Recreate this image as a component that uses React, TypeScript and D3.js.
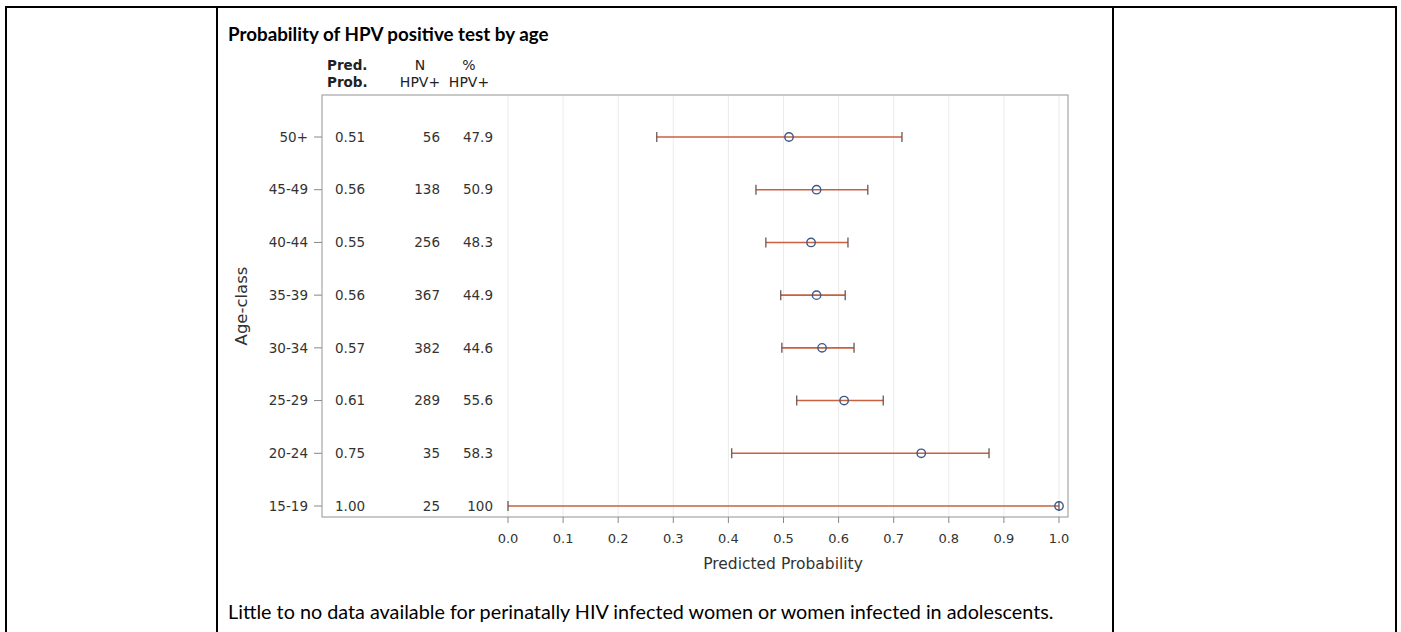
import React from "react";
import * as d3 from "d3";

const ageClasses = ["50+", "45-49", "40-44", "35-39", "30-34", "25-29", "20-24", "15-19"];
const predProb = [0.51, 0.56, 0.55, 0.56, 0.57, 0.61, 0.75, 1.0];
const lowerCI = [0.27, 0.45, 0.468, 0.495, 0.497, 0.524, 0.406, 0.0];
const upperCI = [0.715, 0.653, 0.617, 0.612, 0.628, 0.681, 0.873, 1.0];
const predLabels = ["0.51", "0.56", "0.55", "0.56", "0.57", "0.61", "0.75", "1.00"];
const nHpv = ["56", "138", "256", "367", "382", "289", "35", "25"];
const pctHpv = ["47.9", "50.9", "48.3", "44.9", "44.6", "55.6", "58.3", "100"];
const xTicks = [0, 0.1, 0.2, 0.3, 0.4, 0.5, 0.6, 0.7, 0.8, 0.9, 1.0];

const W = 1401;
const H = 632;
const chartFont = "'DejaVu Sans', sans-serif";
const docFont = "Lato, 'Open Sans', sans-serif";

export default function App() {
  const x = d3.scaleLinear().domain([0, 1]).range([508, 1059]);
  const y = d3.scalePoint<string>().domain(ageClasses).range([137, 506]);
  const plot = { left: 322, top: 95, right: 1068, bottom: 517 };
  const lineColor = "#c9603f";
  const capColor = "#6b5555";
  const capH = 5;

  return (
    <svg width={W} height={H} style={{ position: "absolute", left: 0, top: 0, background: "#fff" }}>
      {/* table borders */}
      <g stroke="#000" strokeWidth={2}>
        <line x1={5} x2={1397} y1={7} y2={7} />
        <line x1={6} x2={6} y1={6} y2={H} />
        <line x1={217} x2={217} y1={6} y2={H} />
        <line x1={1113} x2={1113} y1={6} y2={H} />
        <line x1={1396} x2={1396} y1={6} y2={H} />
      </g>
      <text x={228} y={41} fontFamily={docFont} fontWeight="bold" fontSize={18.8} fill="#000">
        Probability of HPV positive test by age
      </text>
      <text x={228} y={619} fontFamily={docFont} fontSize={19.8} fill="#000">
        Little to no data available for perinatally HIV infected women or women infected in adolescents.
      </text>

      {/* gridlines */}
      <g stroke="#ebebeb" strokeWidth={1}>
        {xTicks.map((t) => (
          <line key={t} x1={x(t)} x2={x(t)} y1={plot.top} y2={plot.bottom} />
        ))}
      </g>
      {/* frame */}
      <rect
        x={plot.left}
        y={plot.top}
        width={plot.right - plot.left}
        height={plot.bottom - plot.top}
        fill="none"
        stroke="#a6a6a6"
        strokeWidth={1.2}
      />

      {/* column headers */}
      <g fontFamily={chartFont} fontSize={14} fill="#222">
        <text x={327} y={70} fontWeight="bold" fontSize={13.5}>Pred.</text>
        <text x={327} y={87} fontWeight="bold" fontSize={13.5}>Prob.</text>
        <text x={420} y={70} textAnchor="middle">N</text>
        <text x={420} y={87} textAnchor="middle">HPV+</text>
        <text x={469} y={70} textAnchor="middle">%</text>
        <text x={469} y={87} textAnchor="middle">HPV+</text>
      </g>

      {/* rows */}
      <g fontFamily={chartFont} fontSize={13.5} fill="#333">
        {ageClasses.map((a, i) => {
          const yy = y(a)!;
          return (
            <g key={a}>
              <text x={308} y={yy} dy="0.35em" textAnchor="end">{a}</text>
              <line x1={314} x2={322} y1={yy} y2={yy} stroke="#888" />
              <text x={335} y={yy} dy="0.35em">{predLabels[i]}</text>
              <text x={440} y={yy} dy="0.35em" textAnchor="end">{nHpv[i]}</text>
              <text x={493} y={yy} dy="0.35em" textAnchor="end">{pctHpv[i]}</text>
            </g>
          );
        })}
      </g>

      {/* error bars */}
      {ageClasses.map((a, i) => {
        const yy = y(a)!;
        const x0 = x(lowerCI[i]);
        const x1 = x(upperCI[i]);
        return (
          <g key={a}>
            <line x1={x0} x2={x1} y1={yy} y2={yy} stroke={lineColor} strokeWidth={1.6} />
            <line x1={x0} x2={x0} y1={yy - capH} y2={yy + capH} stroke={capColor} strokeWidth={1.3} />
            <line x1={x1} x2={x1} y1={yy - capH} y2={yy + capH} stroke={capColor} strokeWidth={1.3} />
            <circle cx={x(predProb[i])} cy={yy} r={4.2} fill="none" stroke="#3b5a8a" strokeWidth={1.4} />
          </g>
        );
      })}

      {/* x axis ticks */}
      <g fontFamily={chartFont} fontSize={13} fill="#333">
        {xTicks.map((t) => (
          <g key={t}>
            <line x1={x(t)} x2={x(t)} y1={plot.bottom} y2={plot.bottom + 6} stroke="#888" />
            <text x={x(t)} y={538} dy="0.35em" textAnchor="middle">{d3.format(".1f")(t)}</text>
          </g>
        ))}
        <text x={783} y={564} dy="0.35em" textAnchor="middle" fontSize={15.5}>Predicted Probability</text>
        <text
          transform={`translate(241,306) rotate(-90)`}
          dy="0.35em"
          textAnchor="middle"
          fontSize={16.5}
        >
          Age-class
        </text>
      </g>
    </svg>
  );
}
